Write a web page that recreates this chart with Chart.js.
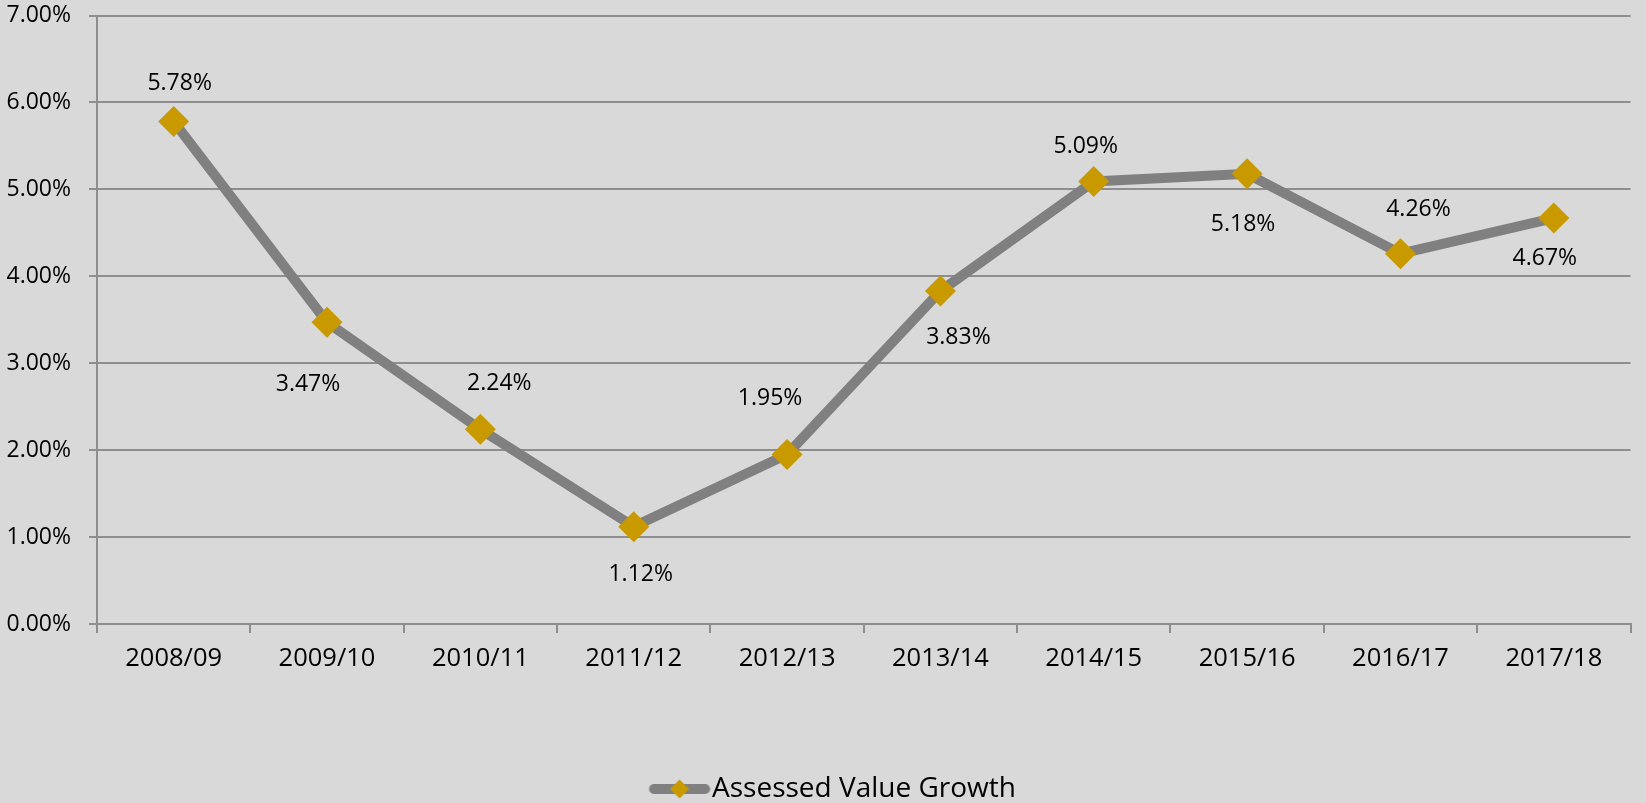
<!DOCTYPE html>
<html>
<head>
<meta charset="utf-8">
<script src="https://cdn.jsdelivr.net/npm/chart.js@4/dist/chart.umd.min.js"></script>
<style>
  html, body { margin: 0; padding: 0; background: #D9D9D9; }
  #wrap { width: 1646px; height: 803px; }
</style>
</head>
<body>
<div id="wrap"><canvas id="c" width="1646" height="803"></canvas></div>
<script>
const categories = ['2008/09','2009/10','2010/11','2011/12','2012/13','2013/14','2014/15','2015/16','2016/17','2017/18'];
const growthValues = [5.78, 3.47, 2.24, 1.12, 1.95, 3.83, 5.09, 5.18, 4.26, 4.67];
const seriesName = 'Assessed Value Growth';
const yTickMin = 0, yTickMax = 7, yTickStep = 1;

const FONT = "'Open Sans', 'Liberation Sans', sans-serif";
const FS = 23;
const LEGEND_FS = 28;
const LINE_COLOR = '#808080';
const MARKER_COLOR = '#C99A00';
const GRID_COLOR = '#8E8E8E';

// legend symbol: line with diamond (drawn in the right part of the image)
const legendImg = document.createElement('canvas');
legendImg.width = 96; legendImg.height = 22;
(function(){
  const g = legendImg.getContext('2d');
  g.strokeStyle = LINE_COLOR; g.lineWidth = 10; g.lineCap = 'round';
  g.beginPath(); g.moveTo(39.5, 11); g.lineTo(90.5, 11); g.stroke();
  g.fillStyle = MARKER_COLOR;
  const cx = 65, cy = 11, r = 9.5;
  g.beginPath(); g.moveTo(cx - r, cy); g.lineTo(cx, cy - r); g.lineTo(cx + r, cy); g.lineTo(cx, cy + r); g.closePath(); g.fill();
})();

const dataLabelPlugin = {
  id: 'valueLabels',
  afterDatasetsDraw(chart, args, opts) {
    const ctx = chart.ctx;
    const meta = chart.getDatasetMeta(0);
    ctx.save();
    ctx.font = FS + 'px ' + FONT;
    ctx.fillStyle = '#000';
    ctx.textAlign = 'center';
    ctx.textBaseline = 'middle';
    meta.data.forEach((pt, i) => {
      const off = opts.offsets[i] || [0, -40];
      const v = chart.data.datasets[0].data[i];
      ctx.fillText(v.toFixed(2) + '%', pt.x + off[0], pt.y + off[1]);
    });
    ctx.restore();
  }
};

new Chart(document.getElementById('c'), {
  type: 'line',
  data: {
    labels: categories,
    datasets: [{
      label: seriesName,
      data: growthValues,
      borderColor: LINE_COLOR,
      borderWidth: 10,
      tension: 0,
      fill: false,
      pointStyle: 'rectRot',
      pointRadius: 15.5,
      pointHoverRadius: 15.5,
      pointBackgroundColor: MARKER_COLOR,
      pointBorderColor: MARKER_COLOR,
      pointBorderWidth: 0
    }]
  },
  options: {
    responsive: false,
    animation: false,
    events: [],
    layout: { padding: { left: 0, right: 3, top: 13.5, bottom: -10 } },
    scales: {
      x: {
        type: 'category',
        offset: true,
        grid: {
          offset: true,
          drawOnChartArea: false,
          drawTicks: true,
          tickLength: 9,
          color: GRID_COLOR,
          lineWidth: 2
        },
        border: { color: GRID_COLOR, width: 2 },
        ticks: {
          color: '#000',
          font: { family: FONT, size: 25.5 },
          padding: 10,
          maxRotation: 0,
          autoSkip: false
        },
        afterFit(s) { s.height = 151; s.paddingLeft = 0; s.paddingRight = 0; }
      },
      y: {
        min: yTickMin,
        max: yTickMax,
        ticks: {
          stepSize: yTickStep,
          color: '#000',
          font: { family: FONT, size: FS },
          padding: 18,
          callback: v => Number(v).toFixed(2) + '%'
        },
        grid: {
          color: GRID_COLOR,
          lineWidth: 2,
          tickLength: 8
        },
        border: { color: GRID_COLOR, width: 2 },
        afterFit(s) { s.width = 97; s.paddingTop = 0; s.paddingBottom = 0; }
      }
    },
    plugins: {
      tooltip: { enabled: false },
      legend: {
        position: 'bottom',
        labels: {
          usePointStyle: true,
          pointStyleWidth: 71,
          padding: 0,
          color: '#000',
          font: { family: FONT, size: LEGEND_FS },
          generateLabels: chart => [{
            text: seriesName,
            pointStyle: legendImg,
            fillStyle: MARKER_COLOR,
            strokeStyle: 'transparent',
            lineWidth: 0,
            hidden: false,
            datasetIndex: 0,
            fontColor: '#000'
          }]
        }
      },
      valueLabels: {
        offsets: [[6,-38],[-19,62],[19,-46],[7,48],[-17,-56],[18,46],[-8,-35],[-4,51],[18,-44],[-9,40]]
      }
    }
  },
  plugins: [dataLabelPlugin]
});
</script>
</body>
</html>
